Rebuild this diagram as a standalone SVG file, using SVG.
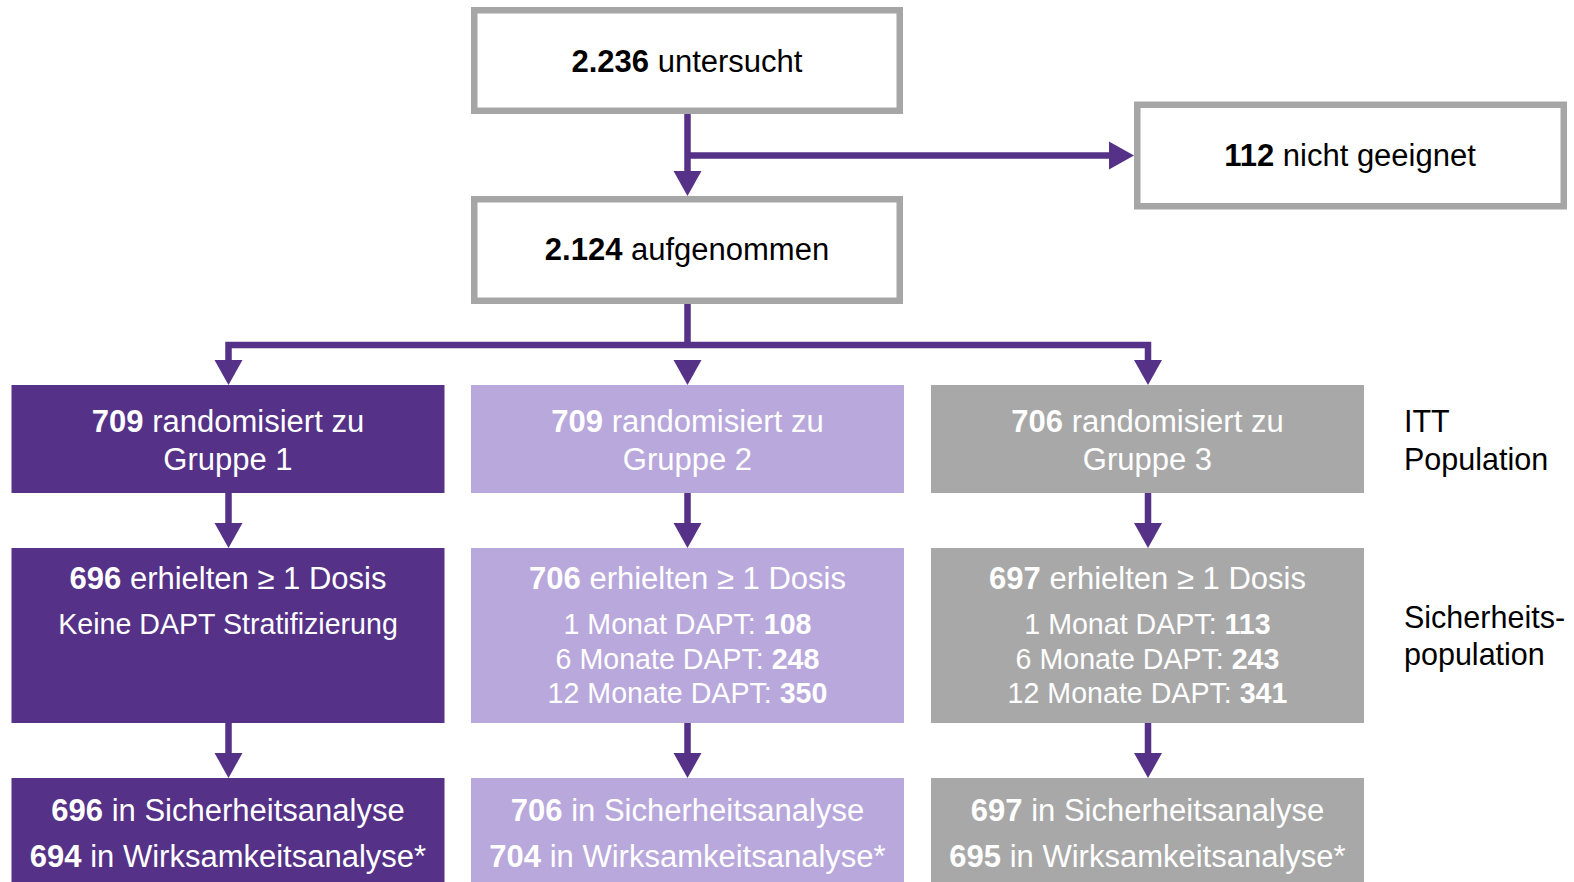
<svg xmlns="http://www.w3.org/2000/svg" width="1574" height="882" viewBox="0 0 1574 882">
<style>
text{font-family:"Liberation Sans",Arial,sans-serif;font-size:31px;text-anchor:middle}
.b{font-weight:bold}
.w{fill:#fff}
.k{fill:#000}
.s{font-size:28.6px}
.frame{fill:#fff;stroke:#a6a6a6;stroke-width:6.5}
.c1{fill:#553287}
.c2{fill:#b9a8dc}
.c3{fill:#a8a8a8}
.ln{stroke:#553287;stroke-width:6.5;fill:none}
.ah{fill:#553287}
.lbl{text-anchor:start;fill:#000;font-size:30.5px}
</style>
<rect width="1574" height="882" fill="#fff"/>
<g id="connectors">
<path class="ln" d="M687.5 114V172"/>
<path class="ln" d="M687.5 155.5H1110"/>
<path class="ln" d="M687.5 304V345M228.5 361V345H1148V361"/>
<path class="ln" d="M228.5 493V524M687.5 493V524M1148 493V524"/>
<path class="ln" d="M228.5 723V754M687.5 723V754M1148 723V754"/>
<polygon class="ah" points="673.5,171 701.5,171 687.5,196"/>
<polygon class="ah" points="1109,141.5 1109,169.5 1134,155.5"/>
<polygon class="ah" points="214.5,360 242.5,360 228.5,385"/>
<polygon class="ah" points="673.5,360 701.5,360 687.5,385"/>
<polygon class="ah" points="1134,360 1162,360 1148,385"/>
<polygon class="ah" points="214.5,523 242.5,523 228.5,548"/>
<polygon class="ah" points="673.5,523 701.5,523 687.5,548"/>
<polygon class="ah" points="1134,523 1162,523 1148,548"/>
<polygon class="ah" points="214.5,753 242.5,753 228.5,778"/>
<polygon class="ah" points="673.5,753 701.5,753 687.5,778"/>
<polygon class="ah" points="1134,753 1162,753 1148,778"/>
</g>
<g id="untersucht">
<rect class="frame" x="474.25" y="10.25" width="425.5" height="100.5"/>
<text class="k" x="687" y="72"><tspan class="b">2.236</tspan> untersucht</text>
</g>
<g id="nicht-geeignet">
<rect class="frame" x="1137.25" y="104.75" width="426.5" height="101.5"/>
<text class="k" x="1350" y="166"><tspan class="b">112</tspan> nicht geeignet</text>
</g>
<g id="aufgenommen">
<rect class="frame" x="474.25" y="199.25" width="425.5" height="101.5"/>
<text class="k" x="687" y="260"><tspan class="b">2.124</tspan> aufgenommen</text>
</g>
<g id="rand1">
<rect class="c1" x="11.5" y="385" width="433" height="108"/>
<text class="w" x="228" y="432"><tspan class="b">709</tspan> randomisiert zu</text>
<text class="w" x="228" y="469.5">Gruppe 1</text>
</g>
<g id="rand2">
<rect class="c2" x="471" y="385" width="433" height="108"/>
<text class="w" x="687.5" y="432"><tspan class="b">709</tspan> randomisiert zu</text>
<text class="w" x="687.5" y="469.5">Gruppe 2</text>
</g>
<g id="rand3">
<rect class="c3" x="931" y="385" width="433" height="108"/>
<text class="w" x="1147.5" y="432"><tspan class="b">706</tspan> randomisiert zu</text>
<text class="w" x="1147.5" y="469.5">Gruppe 3</text>
</g>
<g id="dosis1">
<rect class="c1" x="11.5" y="548" width="433" height="175"/>
<text class="w" x="228" y="589"><tspan class="b">696</tspan> erhielten ≥ 1 Dosis</text>
<text class="w s" x="228" y="633.5">Keine DAPT Stratifizierung</text>
</g>
<g id="dosis2">
<rect class="c2" x="471" y="548" width="433" height="175"/>
<text class="w" x="687.5" y="589"><tspan class="b">706</tspan> erhielten ≥ 1 Dosis</text>
<text class="w s" x="687.5" y="634">1 Monat DAPT: <tspan class="b">108</tspan></text>
<text class="w s" x="687.5" y="668.5">6 Monate DAPT: <tspan class="b">248</tspan></text>
<text class="w s" x="687.5" y="703">12 Monate DAPT: <tspan class="b">350</tspan></text>
</g>
<g id="dosis3">
<rect class="c3" x="931" y="548" width="433" height="175"/>
<text class="w" x="1147.5" y="589"><tspan class="b">697</tspan> erhielten ≥ 1 Dosis</text>
<text class="w s" x="1147.5" y="634">1 Monat DAPT: <tspan class="b">113</tspan></text>
<text class="w s" x="1147.5" y="668.5">6 Monate DAPT: <tspan class="b">243</tspan></text>
<text class="w s" x="1147.5" y="703">12 Monate DAPT: <tspan class="b">341</tspan></text>
</g>
<g id="analyse1">
<rect class="c1" x="11.5" y="778" width="433" height="110"/>
<text class="w" x="228" y="821"><tspan class="b">696</tspan> in Sicherheitsanalyse</text>
<text class="w" x="228" y="867"><tspan class="b">694</tspan> in Wirksamkeitsanalyse*</text>
</g>
<g id="analyse2">
<rect class="c2" x="471" y="778" width="433" height="110"/>
<text class="w" x="687.5" y="821"><tspan class="b">706</tspan> in Sicherheitsanalyse</text>
<text class="w" x="687.5" y="867"><tspan class="b">704</tspan> in Wirksamkeitsanalyse*</text>
</g>
<g id="analyse3">
<rect class="c3" x="931" y="778" width="433" height="110"/>
<text class="w" x="1147.5" y="821"><tspan class="b">697</tspan> in Sicherheitsanalyse</text>
<text class="w" x="1147.5" y="867"><tspan class="b">695</tspan> in Wirksamkeitsanalyse*</text>
</g>
<g id="label-itt">
<text class="lbl" x="1404" y="432">ITT</text>
<text class="lbl" x="1404" y="469.5">Population</text>
</g>
<g id="label-sicherheit">
<text class="lbl" x="1404" y="628">Sicherheits-</text>
<text class="lbl" x="1404" y="665">population</text>
</g>
</svg>
